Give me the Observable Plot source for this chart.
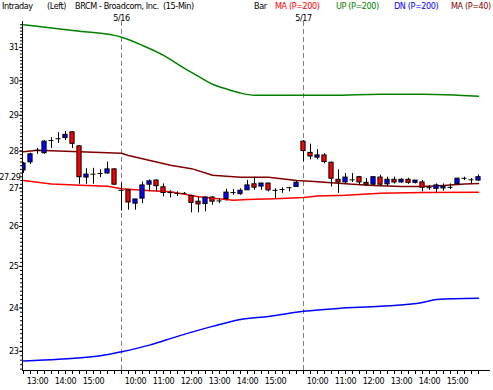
<!DOCTYPE html>
<html><head><meta charset="utf-8">
<script src="https://cdn.jsdelivr.net/npm/d3@7"></script>
<script src="https://cdn.jsdelivr.net/npm/@observablehq/plot@0.6"></script>
<style>
body{margin:0;background:#fff;}
#wrap{position:relative;width:493px;height:390px;font-family:"DejaVu Sans Condensed","DejaVu Sans",sans-serif;font-stretch:condensed;font-size:9px;letter-spacing:-0.4px;}
.h{position:absolute;top:0;line-height:12px;white-space:pre;}
#wrap svg{position:absolute;left:0;top:0;}
#wrap svg text{letter-spacing:-0.4px;font-stretch:condensed;}
</style></head><body>
<div id="wrap"></div>
<script>
// ---- data (15-min bars, BRCM) ----
const open  = [27.47,27.69,28.02,27.94,28.29,28.34,28.36,28.52,28.13,27.28,27.37,27.39,27.39,27.50,
  26.94,26.94,26.59,26.72,27.09,27.20,27.02,26.88,26.86,26.86,26.79,26.64,26.58,26.75,26.66,26.71,26.88,26.84,26.94,27.10,27.04,27.12,26.94,26.96,27.01,27.03,
  28.26,27.95,27.82,27.88,27.68,27.22,27.15,27.22,27.29,27.14,27.09,27.28,27.10,27.22,27.15,27.22,27.14,27.15,27.01,26.98,26.99,27.02,27.10,27.26,27.22,27.20];
const high  = [27.69,27.94,28.07,28.29,28.37,28.51,28.54,28.54,28.15,27.52,27.53,27.49,27.70,27.52,
  27.13,26.96,26.70,27.16,27.22,27.22,27.11,26.93,26.90,26.88,26.81,26.77,26.77,26.77,26.71,26.97,26.96,26.98,27.20,27.29,27.13,27.13,26.98,27.01,27.02,27.18,
  28.29,28.19,28.04,27.93,27.70,27.49,27.39,27.39,27.31,27.25,27.29,27.34,27.29,27.29,27.25,27.26,27.20,27.20,27.07,27.11,27.11,27.11,27.26,27.29,27.25,27.35];
const low   = [27.39,27.63,27.91,27.91,28.07,28.21,28.29,28.07,27.10,27.10,27.10,27.28,27.37,27.07,
  26.40,26.42,26.42,26.59,26.90,26.90,26.77,26.74,26.78,26.84,26.35,26.35,26.38,26.55,26.59,26.66,26.81,26.81,26.94,26.94,26.94,26.90,26.70,26.86,26.90,27.02,
  27.70,27.76,27.76,27.65,27.03,26.86,27.11,27.15,27.07,27.04,27.07,27.04,27.04,27.11,27.13,27.10,27.11,26.90,26.94,26.86,26.92,26.96,27.07,27.20,27.11,27.18];
const close = [27.66,27.91,28.02,28.26,28.29,28.34,28.45,28.20,27.29,27.36,27.37,27.39,27.50,27.09,
  26.94,26.62,26.70,27.07,27.18,27.05,26.87,26.88,26.86,26.86,26.61,26.57,26.75,26.64,26.66,26.88,26.88,26.93,27.07,27.01,27.12,26.94,26.94,26.96,27.01,27.14,
  28.00,27.85,27.88,27.70,27.25,27.15,27.28,27.22,27.15,27.09,27.29,27.09,27.22,27.15,27.22,27.14,27.20,27.01,27.01,27.07,27.04,27.02,27.25,27.26,27.22,27.29];

// indicator readings (bar index, value)
const upIdx   = [0,4,8,13,14,17,20,23,25,27,29,31,33,40,44,51,57,62,65];
const upVal   = [31.70,31.60,31.50,31.37,31.31,31.06,30.76,30.37,30.13,29.90,29.76,29.64,29.58,29.58,29.58,29.61,29.61,29.58,29.55];
const dnIdx   = [0,5,11,14,18,22,27,31,35,40,45,51,57,59,65];
const dnVal   = [22.78,22.82,22.90,22.99,23.14,23.34,23.57,23.73,23.80,23.92,23.99,24.04,24.13,24.20,24.23];
const ma200Idx = [0,4,9,12,14,17,21,25,30,32,36,40,42,46,51,57,65];
const ma200Val = [27.20,27.11,27.07,27.05,26.98,26.94,26.90,26.77,26.68,26.70,26.72,26.75,26.79,26.81,26.86,26.88,26.89];
const ma40Idx = [0,2,7,11,14,15,17,19,21,24,27,31,35,39,41,44,47,50,54,57,60,63,65];
const ma40Val = [27.98,28.02,27.99,27.96,27.94,27.88,27.79,27.70,27.61,27.52,27.34,27.29,27.29,27.20,27.18,27.14,27.10,27.07,27.04,27.04,27.07,27.11,27.12];

// axes / labels
const dayStartIdx = [14, 40];
const dayLabels = ["5/16", "5/17"];
const hourIdx = [2,6,10,16,20,24,28,32,36,42,46,50,54,58,62];
const hourLabels = ["13:00","14:00","15:00","10:00","11:00","12:00","13:00","14:00","15:00","10:00","11:00","12:00","13:00","14:00","15:00"];
const yTicks = [23,24,25,26,27,28,29,30,31];
const header = [
  {t:"Intraday", x:2, c:"#000"},
  {t:"(Left)", x:47, c:"#000"},
  {t:"BRCM - Broadcom, Inc.  (15-Min)", x:75, c:"#000"},
  {t:"Bar", x:254, c:"#000"},
  {t:"MA (P=200)", x:275, c:"#ff0000"},
  {t:"UP (P=200)", x:336, c:"#008000"},
  {t:"DN (P=200)", x:394, c:"#0000ff"},
  {t:"MA (P=40)", x:451, c:"#800000"}
];

// ---- build ----
const bars = open.map((o, i) => ({i, open: o, high: high[i], low: low[i], close: close[i]}));
const upBars = bars.filter(d => d.close > d.open);
const downBars = bars.filter(d => d.close < d.open);
const dojiBars = bars.filter(d => d.close === d.open);
const series = (idx, val) => idx.map((i, k) => ({i, v: val[k]}));

const W = 493, H = 390, mL = 22, mR = 3, mT = 21, mB = 20;
const step = 7;
const xDom = [-1 / step, (W - mR - mL) / step - 1 / step];
const yDom = [22.57, 31.80];
const labelOf = new Map(hourIdx.map((v, k) => [v, hourLabels[k]]));
const font = '"DejaVu Sans Condensed","DejaVu Sans",sans-serif';

const chart = Plot.plot({
  width: W, height: H, marginTop: mT, marginBottom: mB, marginLeft: mL, marginRight: mR,
  style: {fontFamily: font, fontSize: "9px", background: "transparent", color: "black", overflow: "visible"},
  x: {domain: xDom, axis: null, label: null},
  y: {type: "log", domain: yDom, axis: null, label: null},
  marks: [
    Plot.ruleX(dayStartIdx, {stroke: "#808080", strokeDasharray: "5,3"}),
    Plot.text(dayLabels, {x: dayStartIdx, text: d => d, frameAnchor: "top", dy: -7, fill: "black"}),
    Plot.line(series(upIdx, upVal), {x: "i", y: "v", stroke: "#008000", curve: "monotone-x"}),
    Plot.line(series(dnIdx, dnVal), {x: "i", y: "v", stroke: "#0000ff", curve: "monotone-x"}),
    Plot.line(series(ma200Idx, ma200Val), {x: "i", y: "v", stroke: "#ff0000"}),
    Plot.line(series(ma40Idx, ma40Val), {x: "i", y: "v", stroke: "#800000"}),
    Plot.ruleX(bars, {x: "i", y1: "low", y2: "high", stroke: "black", clip: true}),
    Plot.rect(upBars, {x1: d => d.i - 0.3, x2: d => d.i + 0.3, y1: "open", y2: "close", fill: "#0000ff", stroke: "black", clip: true}),
    Plot.rect(downBars, {x1: d => d.i - 0.3, x2: d => d.i + 0.3, y1: "open", y2: "close", fill: "#ff0000", stroke: "black", clip: true}),
    Plot.ruleY(dojiBars, {y: "close", x1: d => d.i - 0.36, x2: d => d.i + 0.36, stroke: "black", clip: true}),
    Plot.ruleX([xDom[0]], {stroke: "black"}),
    Plot.ruleY([yDom[0]], {stroke: "black"}),
    Plot.axisY({ticks: d3.range(226, 318).map(v => v / 10), tickSize: 2, tickFormat: () => "", label: null}),
    Plot.axisY({ticks: yTicks, tickSize: 3, tickPadding: 1, tickFormat: d => String(d), label: null}),
    Plot.text([close[close.length - 1]], {y: d => d, text: d => d.toFixed(2), frameAnchor: "left", textAnchor: "end", dx: -2, fill: "black"}),
    Plot.axisX({ticks: d3.range(0, open.length), tickSize: 4, tickFormat: () => "", label: null}),
    Plot.axisX({ticks: hourIdx, tickSize: 0, tickPadding: 7, tickFormat: d => labelOf.get(d), label: null})
  ]
});

const wrap = document.getElementById("wrap");
wrap.appendChild(chart);
for (const h of header) {
  const s = document.createElement("span");
  s.className = "h";
  s.style.left = h.x + "px";
  s.style.color = h.c;
  s.textContent = h.t;
  wrap.appendChild(s);
}
</script>
</body></html>
